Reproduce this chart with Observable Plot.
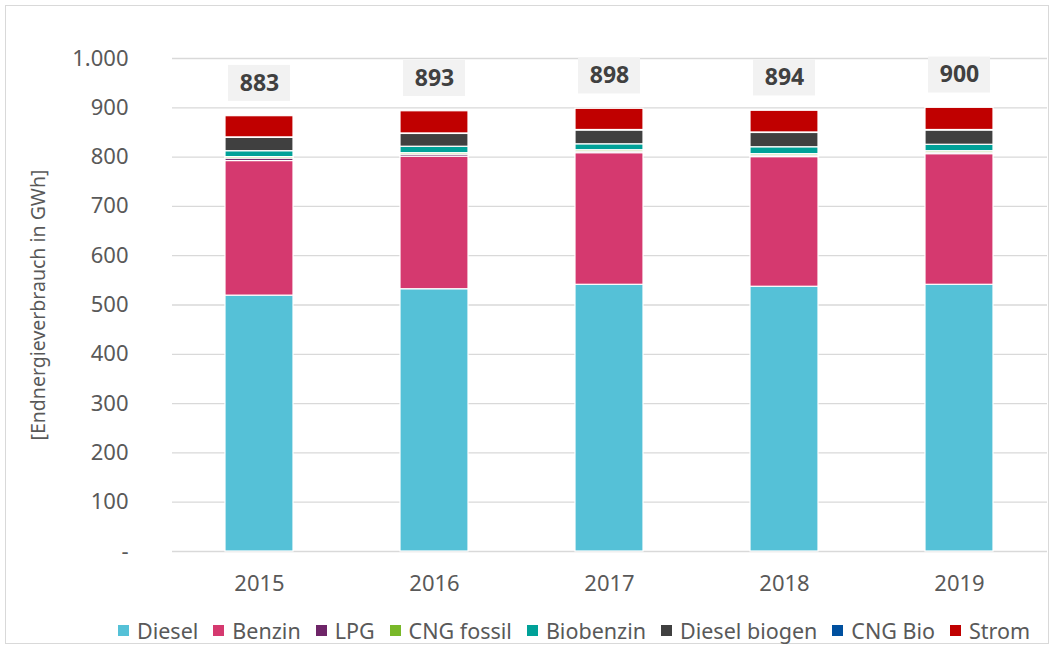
<!DOCTYPE html>
<html>
<head>
<meta charset="utf-8">
<script src="https://cdn.jsdelivr.net/npm/d3@7"></script>
<script src="https://cdn.jsdelivr.net/npm/@observablehq/plot@0.6"></script>
<style>
  html, body { margin: 0; padding: 0; background: #ffffff; }
  #wrap { position: relative; width: 1052px; height: 648px; overflow: hidden; font-family: "Noto Sans", "Open Sans", sans-serif; }
  #frame { position: absolute; left: 5px; top: 5px; width: 1044px; height: 639px; border: 1px solid #d9d9d9; box-sizing: border-box; }
  #chart { position: absolute; left: 0; top: 0; }
  #legend { position: absolute; left: 118px; top: 616px; display: flex; gap: 15px; font-size: 21.5px; color: #595959; white-space: nowrap; }
  #legend .item { display: flex; align-items: center; gap: 8px; }
  #legend .sw { width: 11px; height: 11px; display: inline-block; }
</style>
</head>
<body>
<div id="wrap">
  <div id="frame"></div>
  <div id="chart"></div>
  <div id="legend"></div>
</div>
<script>
const years = ["2015", "2016", "2017", "2018", "2019"];
const seriesNames = ["Diesel", "Benzin", "LPG", "CNG fossil", "Biobenzin", "Diesel biogen", "CNG Bio", "Strom"];
const seriesColors = ["#55c1d7", "#d5396f", "#6e2568", "#79b829", "#00a198", "#404040", "#00509f", "#c00000"];
const diesel       = [519, 532, 541, 537, 541];
const benzin       = [273, 269, 267, 263, 265];
const lpg          = [5, 4, 3, 3, 3];
const cngFossil    = [3, 3, 3, 3, 3];
const biobenzin    = [12, 13, 12, 14, 13];
const dieselBiogen = [27, 26, 28, 29, 29];
const cngBio       = [1, 1, 1, 1, 1];
const strom        = [43, 45, 43, 44, 45];
const yTicks = [0, 100, 200, 300, 400, 500, 600, 700, 800, 900, 1000];
const yLabel = "[Endnergieverbrauch in GWh]";

const seriesValues = [diesel, benzin, lpg, cngFossil, biobenzin, dieselBiogen, cngBio, strom];
const rows = [];
seriesNames.forEach((s, i) => years.forEach((y, j) => rows.push({year: y, type: s, value: seriesValues[i][j]})));
const totals = years.map((y, j) => ({year: y, total: d3.sum(seriesValues, v => v[j])}));

const fmt = d => d === 0 ? "-" : d3.format(",")(d).replace(/,/g, ".");

const chart = Plot.plot({
  width: 1052,
  height: 610,
  marginLeft: 172,
  marginRight: 5,
  marginTop: 58,
  marginBottom: 59,
  style: {fontFamily: "'Noto Sans', 'Open Sans', sans-serif", fontSize: "22px", color: "#595959", background: "transparent", overflow: "visible"},
  x: {domain: years, paddingInner: 0.61, paddingOuter: 0.305, label: null},
  y: {domain: [0, 1000], label: null},
  color: {domain: seriesNames, range: seriesColors},
  marks: [
    Plot.gridY(yTicks, {stroke: "#d9d9d9", strokeOpacity: 1, strokeWidth: 1.3}),
    Plot.axisY(yTicks, {tickSize: 0, tickPadding: 44, tickFormat: fmt, label: null, fill: "#595959", fontSize: 22}),
    Plot.axisX({tickSize: 0, tickPadding: 24, label: null, fill: "#595959", fontSize: 22}),
    Plot.barY(rows, {x: "year", y: "value", fill: "type", stroke: "white", strokeWidth: 1.2}),
    Plot.barY(totals, {x: "year", y1: d => d.total + 30, y2: d => d.total + 103, fill: "#f2f2f2", insetLeft: 3, insetRight: 3}),
    Plot.text(totals, {x: "year", y: d => d.total + 67, text: d => String(d.total), fontWeight: "bold", fontSize: 23, fill: "#404040"}),
    Plot.text([yLabel], {frameAnchor: "left", textAnchor: "middle", rotate: -90, dx: -134, text: d => d, fontSize: 19.5, fill: "#595959"})
  ]
});
document.getElementById("chart").appendChild(chart);

const legend = document.getElementById("legend");
seriesNames.forEach((s, i) => {
  const item = document.createElement("span");
  item.className = "item";
  const sw = document.createElement("span");
  sw.className = "sw";
  sw.style.background = seriesColors[i];
  const t = document.createElement("span");
  t.textContent = s;
  item.appendChild(sw);
  item.appendChild(t);
  legend.appendChild(item);
});
</script>
</body>
</html>
